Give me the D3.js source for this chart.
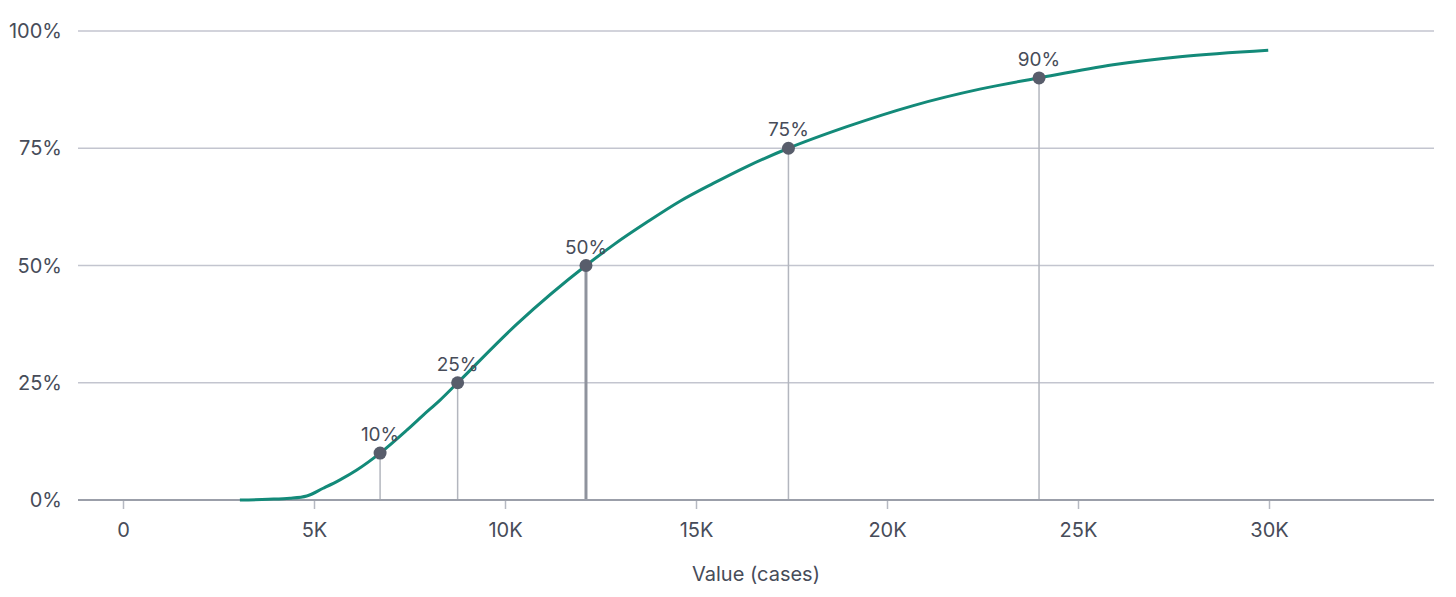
<!DOCTYPE html>
<html>
<head>
<meta charset="utf-8">
<script src="https://cdn.jsdelivr.net/npm/d3@7"></script>
<style>
  body { margin: 0; background: #fff; }
  text { font-family: Inter, "Open Sans", sans-serif; fill: #474c59; }
</style>
</head>
<body>
<div class="cdf-chart"></div>
<script>
// cumulative share of cases by value
var curveValues = [3060, 3800, 4370, 4810, 5240, 5680, 6120, 6730, 7430, 7860, 8300, 8760, 10310, 12120, 12840, 13710, 14580, 15450, 16330, 17420, 18950, 20690, 22430, 23980, 25920, 27670, 29980];
var curveShares = [0, 0.15, 0.36, 0.85, 2.5, 4.3, 6.4, 10, 14.9, 18.1, 21.3, 25, 37.5, 50, 54.4, 59.2, 63.7, 67.5, 71.1, 75, 79.6, 84.1, 87.6, 90, 92.8, 94.5, 95.9];

var pctLabels = ['10%', '25%', '50%', '75%', '90%'];
var pctShares = [10, 25, 50, 75, 90];
var pctValues = [6730, 8760, 12120, 17420, 23980];

var xTicks = [0, 5000, 10000, 15000, 20000, 25000, 30000];
var xTickLabels = ['0', '5K', '10K', '15K', '20K', '25K', '30K'];
var yTicks = [0, 25, 50, 75, 100];
var yTickLabels = ['0%', '25%', '50%', '75%', '100%'];

var w = 1456;
var h = 597;
var plotLeft = 78;
var plotRight = 1434;

var svg = d3.select('.cdf-chart')
	.append('svg')
	.attr('width', w)
	.attr('height', h);

var x = d3.scaleLinear().domain([0, 30000]).range([123, 1269]);
var y = d3.scaleLinear().domain([0, 100]).range([500, 31]);

// horizontal grid
svg.append('g')
	.selectAll('line')
	.data(yTicks.filter(function(d) { return d > 0; }))
	.enter()
	.append('line')
	.attr('x1', plotLeft)
	.attr('x2', plotRight)
	.attr('y1', function(d) { return y(d); })
	.attr('y2', function(d) { return y(d); })
	.attr('stroke', '#c3c5cf')
	.attr('stroke-width', 1.5);

svg.append('g')
	.selectAll('text')
	.data(yTicks)
	.enter()
	.append('text')
	.attr('x', 62)
	.attr('y', function(d) { return y(d); })
	.attr('dy', '0.36em')
	.attr('text-anchor', 'end')
	.attr('font-size', '20px')
	.text(function(d, i) { return yTickLabels[i]; });

// x axis
var xAxis = svg.append('g')
	.attr('transform', 'translate(0,' + y(0) + ')')
	.call(d3.axisBottom(x)
		.tickValues(xTicks)
		.tickSize(9)
		.tickPadding(14)
		.tickFormat(function(d, i) { return xTickLabels[i]; }));

xAxis.select('.domain').remove();
xAxis.selectAll('.tick line').attr('stroke', '#b6b9c2').attr('stroke-width', 1.5);
xAxis.selectAll('.tick text')
	.attr('font-size', '20px')
	.attr('font-family', 'Inter, "Open Sans", sans-serif')
	.attr('fill', '#474c59');

svg.append('text')
	.attr('x', (plotLeft + plotRight) / 2)
	.attr('y', 581)
	.attr('text-anchor', 'middle')
	.attr('font-size', '20px')
	.text('Value (cases)');

// drop lines from each percentile
svg.append('g')
	.selectAll('line')
	.data(pctValues)
	.enter()
	.append('line')
	.attr('x1', function(d) { return x(d); })
	.attr('x2', function(d) { return x(d); })
	.attr('y1', function(d, i) { return y(pctShares[i]); })
	.attr('y2', y(0))
	.attr('stroke', function(d, i) { return pctShares[i] === 50 ? '#8f939d' : '#b3b6be'; })
	.attr('stroke-width', function(d, i) { return pctShares[i] === 50 ? 3 : 1.5; });

// baseline
svg.append('line')
	.attr('x1', plotLeft)
	.attr('x2', plotRight)
	.attr('y1', y(0))
	.attr('y2', y(0))
	.attr('stroke', '#9b9fa9')
	.attr('stroke-width', 2);

var line = d3.line()
	.x(function(d) { return x(d[0]); })
	.y(function(d) { return y(d[1]); })
	.curve(d3.curveMonotoneX);

svg.append('path')
	.datum(d3.zip(curveValues, curveShares))
	.attr('d', line)
	.attr('fill', 'none')
	.attr('stroke', '#138a79')
	.attr('stroke-width', 3);

svg.append('g')
	.selectAll('circle')
	.data(pctValues)
	.enter()
	.append('circle')
	.attr('cx', function(d) { return x(d); })
	.attr('cy', function(d, i) { return y(pctShares[i]); })
	.attr('r', 6.5)
	.attr('fill', '#585d6b');

svg.append('g')
	.selectAll('text')
	.data(pctValues)
	.enter()
	.append('text')
	.attr('x', function(d) { return x(d); })
	.attr('y', function(d, i) { return y(pctShares[i]) - 12; })
	.attr('text-anchor', 'middle')
	.attr('font-size', '19px')
	.text(function(d, i) { return pctLabels[i]; });
</script>
</body>
</html>
